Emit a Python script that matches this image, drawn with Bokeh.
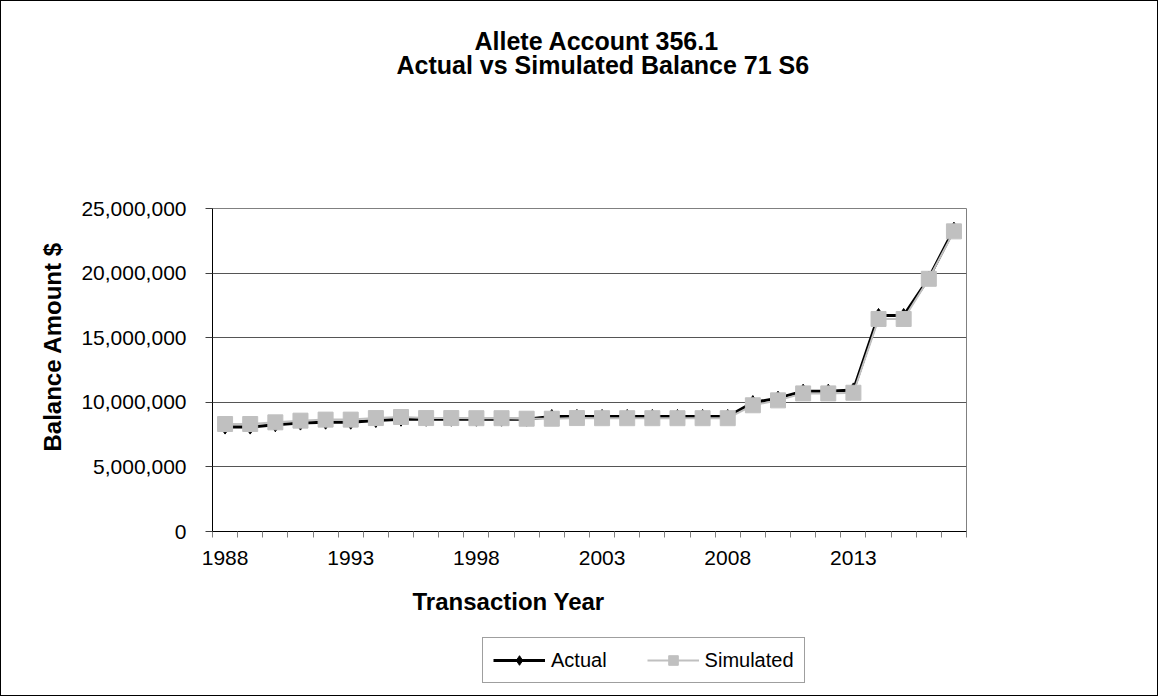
from bokeh.plotting import figure
from bokeh.layouts import column
from bokeh.models import (Range1d, FixedTicker, NumeralTickFormatter,
                          Legend, LegendItem, Title)
from bokeh.core.properties import value
from bokeh.embed import file_html
from bokeh.resources import INLINE

# Transaction years (one category each)
years = [1988, 1989, 1990, 1991, 1992, 1993, 1994, 1995, 1996, 1997,
         1998, 1999, 2000, 2001, 2002, 2003, 2004, 2005, 2006, 2007,
         2008, 2009, 2010, 2011, 2012, 2013, 2014, 2015, 2016, 2017]

# Year-end balances, $
actual = [8080000, 8080000, 8260000, 8390000, 8460000, 8460000, 8590000,
          8690000, 8690000, 8690000, 8690000, 8690000, 8690000, 8900000,
          8900000, 8900000, 8900000, 8900000, 8900000, 8900000, 8900000,
          9980000, 10320000, 10860000, 10860000, 10960000, 16720000,
          16720000, 19620000, 23400000]

simulated = [8320000, 8320000, 8450000, 8580000, 8660000, 8660000, 8780000,
             8860000, 8780000, 8780000, 8770000, 8770000, 8730000, 8730000,
             8780000, 8770000, 8770000, 8770000, 8770000, 8770000, 8770000,
             9770000, 10150000, 10690000, 10690000, 10740000, 16450000,
             16450000, 19560000, 23230000]

x_tick_years = [1988, 1993, 1998, 2003, 2008, 2013]
y_ticks = [0, 5000000, 10000000, 15000000, 20000000, 25000000]

title_line1 = "Allete  Account 356.1"
title_line2 = "Actual vs Simulated Balance  71 S6"
series_names = ["Actual", "Simulated"]

FONT = "Liberation Sans"
GRAY = "#C0C0C0"
W = 1156
CHART_H = 636
KEY_H = 694 - CHART_H
BORDER_L, BORDER_R = 211, 191

ACTUAL_LINE = dict(line_color="black", line_width=3)
ACTUAL_MARK = dict(marker="diamond", size=14, fill_color="black", line_color="black")
SIM_LINE = dict(line_color=GRAY, line_width=2)
SIM_MARK = dict(marker="square", size=15, fill_color=GRAY, line_color=GRAY)

# ---- chart --------------------------------------------------------------
p = figure(width=W, height=CHART_H, output_backend="svg", toolbar_location=None,
           x_range=Range1d(years[0] - 0.5, years[-1] + 0.5),
           y_range=Range1d(y_ticks[0], y_ticks[-1]),
           min_border_left=BORDER_L, min_border_right=BORDER_R,
           min_border_top=207, min_border_bottom=106,
           background_fill_color="white", border_fill_color="white")
p.outline_line_color = "#808080"
p.outline_line_width = 1

# category boundaries carry the small tick marks, year labels sit in the middle
boundaries = [y - 0.5 for y in years] + [years[-1] + 0.5]
p.xaxis.ticker = FixedTicker(ticks=x_tick_years, minor_ticks=boundaries)
p.xaxis.major_label_overrides = {y: str(y) for y in x_tick_years}
p.xaxis.major_tick_out = 0
p.xaxis.major_tick_in = 0
p.xaxis.minor_tick_out = 6
p.xaxis.minor_tick_in = 0
p.xaxis.minor_tick_line_color = "#808080"
p.xaxis.axis_line_color = "black"
p.xaxis.major_label_standoff = 13
p.xaxis.major_label_text_font = FONT
p.xaxis.major_label_text_font_size = "21px"
p.xaxis.major_label_text_color = "black"

p.yaxis.ticker = FixedTicker(ticks=y_ticks)
p.yaxis.formatter = NumeralTickFormatter(format="0,0")
p.yaxis.major_tick_out = 7
p.yaxis.major_tick_in = 0
p.yaxis.minor_tick_out = 0
p.yaxis.minor_tick_in = 0
p.yaxis.major_tick_line_color = "#404040"
p.yaxis.axis_line_color = "black"
p.yaxis.major_label_standoff = 19
p.yaxis.major_label_text_font = FONT
p.yaxis.major_label_text_font_size = "21px"
p.yaxis.major_label_text_color = "black"

p.xgrid.grid_line_color = None
p.ygrid.ticker = FixedTicker(ticks=y_ticks)
p.ygrid.grid_line_color = "#555555"
p.ygrid.grid_line_width = 1

# series
p.line(years, actual, **ACTUAL_LINE)
p.scatter(years, actual, **ACTUAL_MARK)
p.line(years, simulated, **SIM_LINE)
p.scatter(years, simulated, **SIM_MARK)

# heading: a blank strip next to the frame, then the two title lines
title_style = dict(align="left", vertical_align="bottom", text_font=FONT,
                   text_font_size="25px", text_font_style="bold",
                   text_color="black")
p.add_layout(Title(text=" ", text_font_size="10px", standoff=117), "above")
p.add_layout(Title(text=title_line2, offset=184, standoff=0, **title_style), "above")
p.add_layout(Title(text=title_line1, offset=262, standoff=-13, **title_style), "above")

# axis titles
p.add_layout(Title(text="Balance Amount $", align="left", offset=80,
                   vertical_align="bottom", standoff=26, text_font=FONT,
                   text_font_size="24px", text_font_style="bold",
                   text_color="black"), "left")
p.add_layout(Title(text="Transaction Year", align="left", offset=200,
                   vertical_align="top", standoff=40, text_font=FONT,
                   text_font_size="24px", text_font_style="bold",
                   text_color="black"), "below")

# ---- key strip under the chart ------------------------------------------
# the key's renderers carry the same series, outside this strip's visible range,
# so only their legend swatches show
key = figure(width=W, height=KEY_H, output_backend="svg", toolbar_location=None,
             x_axis_location=None, y_axis_location=None,
             x_range=Range1d(0, 1), y_range=Range1d(0, 1),
             min_border_left=BORDER_L, min_border_right=BORDER_R,
             min_border_top=0, min_border_bottom=0,
             background_fill_color="white", border_fill_color="white")
key.outline_line_color = None
key.grid.visible = False
k_a_line = key.line(years, actual, **ACTUAL_LINE)
k_a_mark = key.scatter(years, actual, **ACTUAL_MARK)
k_s_line = key.line(years, simulated, **SIM_LINE)
k_s_mark = key.scatter(years, simulated, **SIM_MARK)

legend = Legend(items=[LegendItem(label=value(series_names[0]), renderers=[k_a_line, k_a_mark]),
                       LegendItem(label=value(series_names[1]), renderers=[k_s_line, k_s_mark])],
                orientation="horizontal", location=(270, 12), margin=0,
                glyph_width=52, glyph_height=24, label_standoff=6,
                spacing=40, padding=10,
                label_text_font=FONT, label_text_font_size="20px",
                label_text_color="black",
                border_line_color="#404040", border_line_width=1,
                background_fill_color="white", background_fill_alpha=1.0)
key.add_layout(legend)

page = column(p, key, spacing=0, styles={"border": "1px solid #000000"})

open("out.html", "w").write(file_html(page, INLINE))
